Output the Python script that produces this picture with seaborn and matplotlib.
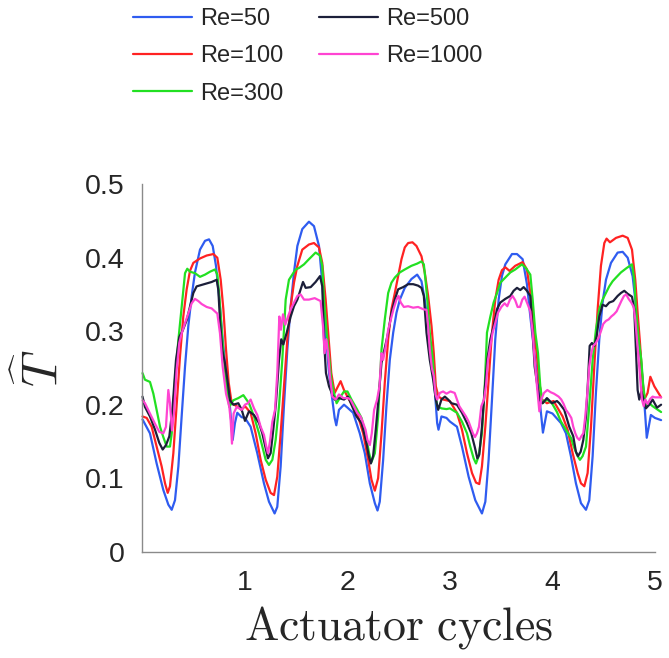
import pandas as pd
import matplotlib
matplotlib.use("Agg")
import matplotlib.pyplot as plt
import seaborn as sns

# digitised thrust coefficient vs actuator cycles, one (t, T) pair of lists per Reynolds number
re50_t = [0.000, 0.073, 0.138, 0.203, 0.252, 0.285, 0.317, 0.350, 0.382, 0.415, 0.447, 0.480, 0.512, 0.561,
          0.610, 0.649, 0.685, 0.717, 0.750, 0.782, 0.815, 0.847, 0.870, 0.880, 0.902, 0.925, 0.967,
          1.000, 1.055, 1.120, 1.185, 1.234, 1.289, 1.315, 1.348, 1.380, 1.413, 1.446, 1.478, 1.511, 1.559,
          1.624, 1.673, 1.722, 1.754, 1.787, 1.820, 1.852, 1.875, 1.891, 1.917, 1.966,
          2.000, 2.055, 2.120, 2.169, 2.218, 2.267, 2.293, 2.315, 2.348, 2.380, 2.413, 2.446, 2.478, 2.511,
          2.559, 2.624, 2.680, 2.722, 2.754, 2.787, 2.820, 2.852, 2.875, 2.888, 2.917, 2.966,
          3.000, 3.068, 3.117, 3.182, 3.247, 3.312, 3.345, 3.377, 3.410, 3.442, 3.475, 3.507, 3.540, 3.605,
          3.654, 3.709, 3.751, 3.784, 3.816, 3.849, 3.881, 3.907, 3.946,
          4.000, 4.083, 4.132, 4.180, 4.229, 4.278, 4.327, 4.359, 4.392, 4.424, 4.457, 4.489, 4.522, 4.571,
          4.636, 4.685, 4.734, 4.782, 4.815, 4.847, 4.880, 4.906, 4.920, 4.960, 5.000, 5.060]
re50_T = [0.180, 0.161, 0.120, 0.084, 0.064, 0.057, 0.070, 0.116, 0.184, 0.252, 0.307, 0.348, 0.380, 0.411,
          0.423, 0.425, 0.416, 0.389, 0.343, 0.289, 0.243, 0.207, 0.170, 0.152, 0.175, 0.189, 0.183,
          0.182, 0.170, 0.134, 0.093, 0.068, 0.052, 0.061, 0.116, 0.198, 0.275, 0.334, 0.380, 0.416, 0.439,
          0.449, 0.443, 0.416, 0.366, 0.298, 0.243, 0.207, 0.182, 0.172, 0.193, 0.200,
          0.196, 0.189, 0.161, 0.134, 0.093, 0.066, 0.056, 0.068, 0.125, 0.198, 0.261, 0.298, 0.325, 0.343,
          0.359, 0.371, 0.377, 0.368, 0.343, 0.307, 0.266, 0.220, 0.175, 0.166, 0.184, 0.182,
          0.177, 0.170, 0.143, 0.102, 0.070, 0.052, 0.068, 0.125, 0.207, 0.289, 0.343, 0.375, 0.391, 0.405,
          0.405, 0.398, 0.364, 0.320, 0.280, 0.239, 0.198, 0.162, 0.191,
          0.188, 0.175, 0.161, 0.130, 0.093, 0.066, 0.057, 0.070, 0.130, 0.216, 0.289, 0.339, 0.370, 0.393,
          0.407, 0.408, 0.400, 0.375, 0.334, 0.284, 0.234, 0.184, 0.155, 0.186, 0.182, 0.179]

re100_t = [0.000, 0.041, 0.089, 0.138, 0.187, 0.220, 0.246, 0.268, 0.301, 0.333, 0.366, 0.398, 0.431, 0.463,
           0.496, 0.561, 0.626, 0.691, 0.730, 0.763, 0.789, 0.815, 0.841, 0.870, 0.919, 0.967,
           1.000, 1.055, 1.104, 1.153, 1.202, 1.250, 1.283, 1.315, 1.348, 1.380, 1.413, 1.446, 1.478, 1.511,
           1.559, 1.624, 1.673, 1.722, 1.754, 1.787, 1.820, 1.842, 1.875, 1.908, 1.933, 1.966,
           2.015, 2.055, 2.104, 2.153, 2.202, 2.234, 2.267, 2.299, 2.332, 2.364, 2.397, 2.429, 2.462, 2.494,
           2.527, 2.559, 2.592, 2.634, 2.673, 2.722, 2.754, 2.787, 2.820, 2.842, 2.862, 2.888, 2.933, 2.998,
           3.068, 3.117, 3.166, 3.215, 3.254, 3.286, 3.312, 3.345, 3.377, 3.410, 3.442, 3.475, 3.507, 3.540,
           3.582, 3.637, 3.709, 3.751, 3.784, 3.816, 3.849, 3.872, 3.898, 3.946,
           4.011, 4.099, 4.148, 4.197, 4.246, 4.278, 4.311, 4.343, 4.376, 4.408, 4.441, 4.473, 4.506, 4.528,
           4.561, 4.620, 4.685, 4.734, 4.776, 4.808, 4.831, 4.854, 4.873, 4.896, 4.928, 4.955, 4.994, 5.060]
re100_T = [0.184, 0.182, 0.170, 0.143, 0.116, 0.093, 0.080, 0.089, 0.134, 0.198, 0.266, 0.320, 0.357, 0.382,
           0.393, 0.399, 0.403, 0.405, 0.400, 0.370, 0.330, 0.275, 0.230, 0.202, 0.198, 0.193,
           0.198, 0.189, 0.161, 0.125, 0.098, 0.080, 0.077, 0.102, 0.161, 0.225, 0.289, 0.334, 0.366, 0.389,
           0.411, 0.418, 0.420, 0.414, 0.393, 0.343, 0.284, 0.243, 0.216, 0.225, 0.232, 0.220,
           0.207, 0.198, 0.184, 0.161, 0.125, 0.098, 0.083, 0.100, 0.161, 0.230, 0.289, 0.330, 0.352, 0.375,
           0.398, 0.414, 0.420, 0.421, 0.416, 0.402, 0.380, 0.348, 0.307, 0.270, 0.225, 0.211, 0.207, 0.205,
           0.189, 0.166, 0.134, 0.107, 0.094, 0.092, 0.116, 0.170, 0.234, 0.298, 0.343, 0.370, 0.383, 0.387,
           0.382, 0.389, 0.394, 0.384, 0.352, 0.307, 0.266, 0.230, 0.207, 0.202,
           0.205, 0.184, 0.166, 0.134, 0.107, 0.093, 0.089, 0.107, 0.170, 0.252, 0.330, 0.389, 0.420, 0.426,
           0.421, 0.427, 0.430, 0.427, 0.411, 0.370, 0.325, 0.284, 0.243, 0.207, 0.216, 0.238, 0.225, 0.210]

re300_t = [0.000, 0.024, 0.073, 0.106, 0.138, 0.171, 0.203, 0.236, 0.268, 0.285, 0.317, 0.350, 0.382, 0.415,
           0.437, 0.463, 0.512, 0.561, 0.610, 0.659, 0.707, 0.730, 0.750, 0.772, 0.795, 0.821, 0.847, 0.886,
           0.935, 0.984,
           1.039, 1.088, 1.137, 1.169, 1.202, 1.234, 1.267, 1.299, 1.332, 1.364, 1.397, 1.429, 1.462, 1.494,
           1.527, 1.576, 1.624, 1.689, 1.732, 1.754, 1.771, 1.797, 1.820, 1.842, 1.868, 1.894, 1.933, 1.966,
           2.000, 2.039, 2.088, 2.137, 2.179, 2.211, 2.234, 2.267, 2.299, 2.332, 2.364, 2.397, 2.429, 2.462,
           2.511, 2.559, 2.624, 2.680, 2.722, 2.745, 2.764, 2.784, 2.803, 2.829, 2.852, 2.875, 2.917, 2.966,
           3.000, 3.068, 3.117, 3.166, 3.198, 3.231, 3.254, 3.280, 3.312, 3.338, 3.361, 3.394, 3.426, 3.459,
           3.491, 3.540, 3.589, 3.637, 3.702, 3.741, 3.784, 3.807, 3.833, 3.859, 3.881, 3.904, 3.946, 3.995,
           4.044, 4.083, 4.132, 4.180, 4.213, 4.246, 4.268, 4.294, 4.327, 4.359, 4.392, 4.424, 4.457, 4.489,
           4.522, 4.554, 4.587, 4.620, 4.668, 4.724, 4.776, 4.798, 4.815, 4.841, 4.867, 4.886, 4.912, 4.945,
           4.977, 5.060]
re300_T = [0.243, 0.234, 0.231, 0.215, 0.193, 0.170, 0.156, 0.143, 0.143, 0.161, 0.234, 0.288, 0.333, 0.379,
           0.385, 0.381, 0.379, 0.374, 0.377, 0.381, 0.384, 0.377, 0.347, 0.302, 0.261, 0.224, 0.197, 0.206,
           0.209, 0.213,
           0.202, 0.184, 0.161, 0.143, 0.125, 0.118, 0.125, 0.152, 0.198, 0.261, 0.343, 0.370, 0.377, 0.384,
           0.386, 0.391, 0.398, 0.407, 0.403, 0.389, 0.343, 0.298, 0.266, 0.234, 0.216, 0.202, 0.211, 0.218,
           0.218, 0.207, 0.195, 0.182, 0.159, 0.134, 0.122, 0.134, 0.184, 0.275, 0.316, 0.352, 0.366, 0.373,
           0.380, 0.384, 0.389, 0.392, 0.395, 0.391, 0.366, 0.334, 0.298, 0.266, 0.225, 0.198, 0.195, 0.194,
           0.195, 0.189, 0.177, 0.161, 0.143, 0.127, 0.120, 0.130, 0.161, 0.220, 0.298, 0.320, 0.339, 0.352,
           0.366, 0.373, 0.380, 0.384, 0.391, 0.386, 0.377, 0.343, 0.298, 0.270, 0.225, 0.202, 0.207, 0.202,
           0.190, 0.177, 0.166, 0.155, 0.141, 0.130, 0.125, 0.130, 0.143, 0.198, 0.261, 0.302, 0.330, 0.343,
           0.352, 0.361, 0.368, 0.373, 0.380, 0.386, 0.391, 0.370, 0.330, 0.289, 0.261, 0.225, 0.198, 0.202,
           0.198, 0.190]

re500_t = [0.000, 0.024, 0.073, 0.122, 0.164, 0.197, 0.229, 0.262, 0.294, 0.327, 0.359, 0.392, 0.431, 0.463,
           0.496, 0.528, 0.577, 0.626, 0.675, 0.724, 0.740, 0.756, 0.779, 0.805, 0.828, 0.854, 0.886, 0.935,
           0.968,
           1.000, 1.039, 1.088, 1.137, 1.169, 1.202, 1.224, 1.250, 1.276, 1.302, 1.332, 1.354, 1.374, 1.407,
           1.446, 1.478, 1.511, 1.543, 1.566, 1.592, 1.641, 1.689, 1.732, 1.754, 1.771, 1.790, 1.820, 1.852,
           1.875, 1.917, 1.966,
           2.005, 2.039, 2.088, 2.137, 2.179, 2.208, 2.228, 2.250, 2.276, 2.302, 2.332, 2.364, 2.397, 2.429,
           2.462, 2.494, 2.543, 2.592, 2.641, 2.689, 2.722, 2.745, 2.771, 2.803, 2.836, 2.862, 2.885, 2.917,
           2.950, 2.982,
           3.015, 3.068, 3.117, 3.166, 3.208, 3.241, 3.267, 3.286, 3.312, 3.338, 3.364, 3.394, 3.426, 3.459,
           3.491, 3.540, 3.589, 3.621, 3.654, 3.686, 3.719, 3.751, 3.784, 3.807, 3.826, 3.849, 3.872, 3.904,
           3.946, 3.995,
           4.044, 4.067, 4.115, 4.164, 4.203, 4.229, 4.249, 4.275, 4.301, 4.327, 4.346, 4.363, 4.385, 4.408,
           4.431, 4.457, 4.489, 4.522, 4.554, 4.593, 4.636, 4.668, 4.701, 4.733, 4.776, 4.798, 4.815, 4.831,
           4.847, 4.867, 4.890, 4.912, 4.945, 4.977, 5.020, 5.060]
re500_T = [0.211, 0.197, 0.184, 0.166, 0.148, 0.139, 0.145, 0.157, 0.197, 0.261, 0.292, 0.301, 0.315, 0.333,
           0.352, 0.361, 0.363, 0.365, 0.367, 0.370, 0.356, 0.315, 0.274, 0.256, 0.234, 0.206, 0.200, 0.202,
           0.193,
           0.178, 0.191, 0.186, 0.175, 0.161, 0.141, 0.127, 0.134, 0.166, 0.202, 0.261, 0.289, 0.282, 0.298,
           0.320, 0.334, 0.343, 0.357, 0.367, 0.359, 0.360, 0.367, 0.375, 0.361, 0.289, 0.243, 0.225, 0.214,
           0.207, 0.209, 0.207,
           0.211, 0.200, 0.184, 0.175, 0.152, 0.130, 0.120, 0.130, 0.166, 0.207, 0.257, 0.277, 0.298, 0.325,
           0.343, 0.357, 0.360, 0.364, 0.364, 0.362, 0.359, 0.348, 0.298, 0.261, 0.234, 0.207, 0.193, 0.207,
           0.211, 0.207,
           0.202, 0.200, 0.189, 0.175, 0.161, 0.143, 0.127, 0.132, 0.170, 0.220, 0.261, 0.289, 0.307, 0.330,
           0.339, 0.344, 0.348, 0.355, 0.359, 0.356, 0.360, 0.355, 0.348, 0.298, 0.252, 0.230, 0.207, 0.202,
           0.209, 0.202,
           0.205, 0.202, 0.193, 0.170, 0.157, 0.136, 0.130, 0.136, 0.152, 0.184, 0.230, 0.280, 0.284, 0.280,
           0.293, 0.320, 0.336, 0.334, 0.339, 0.341, 0.348, 0.352, 0.355, 0.351, 0.347, 0.330, 0.275, 0.220,
           0.207, 0.218, 0.207, 0.195, 0.200, 0.207, 0.196, 0.200]

re1000_t = [0.000, 0.024, 0.073, 0.122, 0.164, 0.203, 0.229, 0.252, 0.268, 0.288, 0.307, 0.333, 0.359, 0.382,
            0.415, 0.447, 0.480, 0.512, 0.545, 0.577, 0.626, 0.675, 0.730, 0.756, 0.782, 0.815, 0.847, 0.860,
            0.873, 0.889, 0.919, 0.968,
            1.000, 1.029, 1.055, 1.088, 1.120, 1.153, 1.185, 1.208, 1.224, 1.244, 1.267, 1.293, 1.315, 1.335,
            1.351, 1.371, 1.393, 1.420, 1.446, 1.478, 1.511, 1.543, 1.576, 1.624, 1.680, 1.738, 1.761, 1.777,
            1.794, 1.810, 1.829, 1.852, 1.885, 1.917, 1.959,
            2.005, 2.029, 2.062, 2.094, 2.127, 2.153, 2.176, 2.195, 2.218, 2.237, 2.260, 2.289, 2.312, 2.332,
            2.348, 2.374, 2.397, 2.423, 2.449, 2.478, 2.498, 2.520, 2.550, 2.592, 2.641, 2.689, 2.738, 2.771,
            2.787, 2.803, 2.823, 2.842, 2.859, 2.875, 2.901, 2.933, 2.966,
            3.005, 3.046, 3.068, 3.091, 3.124, 3.156, 3.182, 3.205, 3.224, 3.244, 3.263, 3.283, 3.306, 3.332,
            3.351, 3.371, 3.394, 3.416, 3.442, 3.468, 3.501, 3.533, 3.559, 3.585, 3.611, 3.637, 3.660, 3.683,
            3.706, 3.728, 3.754, 3.784, 3.807, 3.826, 3.849, 3.872, 3.891, 3.917, 3.950, 3.982,
            4.015, 4.060, 4.086, 4.109, 4.132, 4.158, 4.184, 4.203, 4.223, 4.242, 4.262, 4.281, 4.301, 4.320,
            4.340, 4.359, 4.379, 4.398, 4.424, 4.450, 4.473, 4.496, 4.522, 4.548, 4.574, 4.600, 4.626, 4.652,
            4.675, 4.698, 4.720, 4.743, 4.769, 4.792, 4.808, 4.824, 4.841, 4.857, 4.873, 4.890, 4.906, 4.928,
            4.954, 4.977, 5.000, 5.060]
re1000_T = [0.206, 0.202, 0.188, 0.174, 0.163, 0.161, 0.170, 0.220, 0.202, 0.165, 0.188, 0.247, 0.284, 0.297,
            0.311, 0.324, 0.338, 0.344, 0.341, 0.337, 0.333, 0.331, 0.324, 0.297, 0.252, 0.215, 0.197, 0.179,
            0.147, 0.188, 0.197, 0.193,
            0.200, 0.202, 0.207, 0.195, 0.186, 0.170, 0.159, 0.143, 0.134, 0.150, 0.177, 0.193, 0.243, 0.320,
            0.302, 0.323, 0.309, 0.320, 0.330, 0.339, 0.348, 0.350, 0.343, 0.343, 0.345, 0.341, 0.307, 0.270,
            0.289, 0.270, 0.239, 0.211, 0.207, 0.214, 0.209,
            0.209, 0.207, 0.198, 0.189, 0.184, 0.175, 0.166, 0.152, 0.145, 0.161, 0.193, 0.207, 0.225, 0.270,
            0.261, 0.280, 0.302, 0.316, 0.330, 0.343, 0.348, 0.339, 0.333, 0.334, 0.332, 0.333, 0.330, 0.329,
            0.307, 0.275, 0.250, 0.239, 0.214, 0.207, 0.216, 0.218, 0.215,
            0.218, 0.216, 0.207, 0.198, 0.191, 0.184, 0.177, 0.168, 0.161, 0.156, 0.161, 0.170, 0.198, 0.207,
            0.225, 0.261, 0.280, 0.298, 0.311, 0.325, 0.333, 0.338, 0.334, 0.343, 0.348, 0.342, 0.333, 0.333,
            0.343, 0.347, 0.338, 0.327, 0.298, 0.261, 0.225, 0.191, 0.207, 0.216, 0.220, 0.217,
            0.215, 0.211, 0.207, 0.201, 0.193, 0.188, 0.182, 0.170, 0.161, 0.155, 0.152, 0.157, 0.161, 0.184,
            0.216, 0.252, 0.270, 0.280, 0.284, 0.291, 0.300, 0.310, 0.314, 0.316, 0.320, 0.323, 0.327, 0.335,
            0.342, 0.348, 0.350, 0.344, 0.339, 0.333, 0.316, 0.289, 0.261, 0.234, 0.207, 0.198, 0.207, 0.201,
            0.208, 0.211, 0.210, 0.210]

labels = ["Re=50", "Re=100", "Re=300", "Re=500", "Re=1000"]
colors = ["#2f5cf0", "#ff2222", "#22e022", "#1c1f3a", "#ff44d2"]
x_ticks = [1, 2, 3, 4, 5]
y_ticks = [0, 0.1, 0.2, 0.3, 0.4, 0.5]
y_tick_labels = ["0", "0.1", "0.2", "0.3", "0.4", "0.5"]

series = [(re50_t, re50_T), (re100_t, re100_T), (re300_t, re300_T), (re500_t, re500_T), (re1000_t, re1000_T)]
frames = []
for lab, (t, T) in zip(labels, series):
    frames.append(pd.DataFrame({"cycles": t, "thrust": T, "Re": lab}))
df = pd.concat(frames, ignore_index=True)

sns.set_theme(style="white")
plt.rcParams["font.family"] = ["Liberation Sans", "DejaVu Sans"]
plt.rcParams["mathtext.fontset"] = "cm"

fig = plt.figure(figsize=(6.69, 6.58), dpi=100)
ax = fig.add_axes([0.213, 0.1616, 0.766, 0.5584])

sns.lineplot(data=df, x="cycles", y="thrust", hue="Re", hue_order=labels, palette=colors,
             estimator=None, sort=False, linewidth=1.6, ax=ax)
for line in ax.lines:
    line.set_clip_on(False)

ax.set_xlim(0, 5)
ax.set_ylim(0, 0.5)
ax.set_xticks(x_ticks)
ax.set_yticks(y_ticks)
ax.set_yticklabels(y_tick_labels)
ax.tick_params(direction="in", length=4, width=0.8, color="#888888", labelsize=20.5,
               labelcolor="#262626", pad=13)
ax.tick_params(axis="x", pad=13)
for side in ["top", "right"]:
    ax.spines[side].set_visible(False)
for side in ["left", "bottom"]:
    ax.spines[side].set_color("#8a8a8a")
    ax.spines[side].set_linewidth(1.0)

ax.set_xlabel(r"$\mathrm{Actuator\ cycles}$", fontsize=33, color="#262626", labelpad=6)
ax.set_ylabel(r"$\widehat{T}$", fontsize=36, color="#262626", labelpad=13)

handles, lab_list = ax.get_legend_handles_labels()
ax.get_legend().remove()
fig.legend(handles, lab_list, ncol=2, loc="upper left", bbox_to_anchor=(133 / 669, 1 - 8 / 658),
           frameon=False, fontsize=17, handlelength=2.5, handletextpad=0.35, columnspacing=1.5,
           labelspacing=0.65, borderpad=0, borderaxespad=0)

fig.savefig("out.png", dpi=100)
